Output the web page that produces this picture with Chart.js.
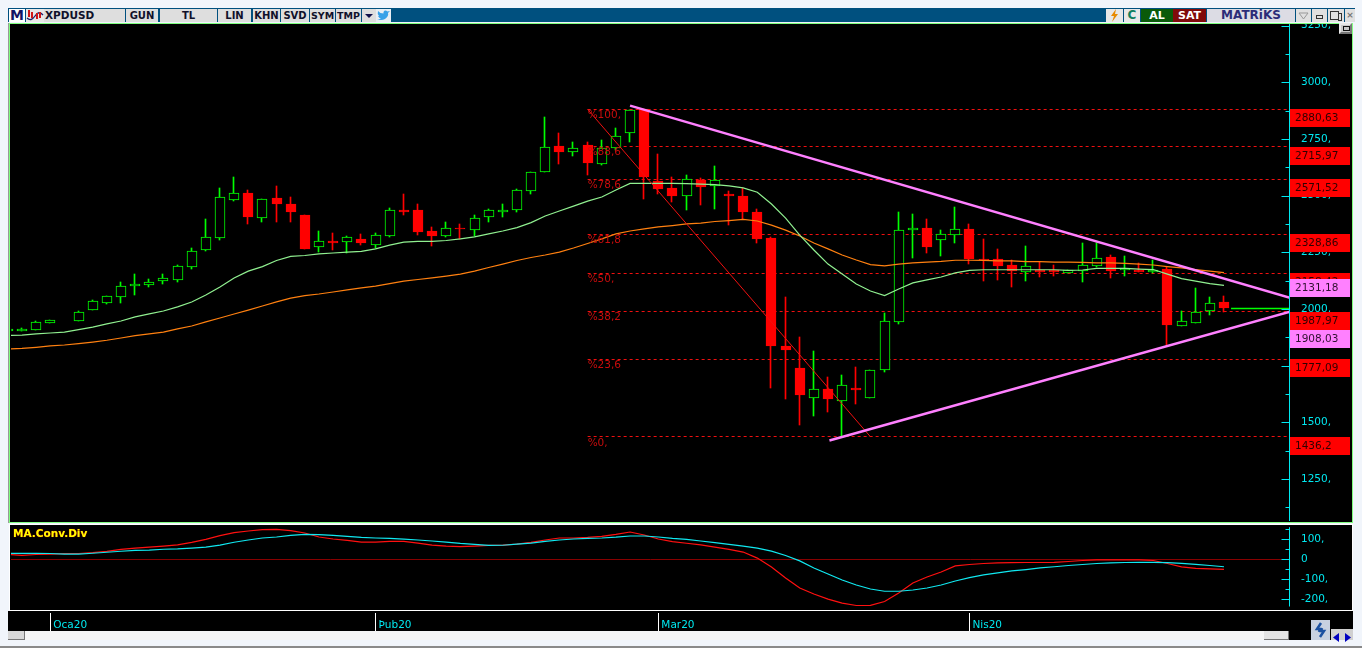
<!DOCTYPE html>
<html>
<head>
<meta charset="utf-8">
<title>XPDUSD</title>
<script src="https://cdn.jsdelivr.net/npm/chart.js@4"></script>
<style>
    html, body { margin: 0; padding: 0; width: 1362px; height: 648px; overflow: hidden; background: #f1f5fb; }
    .box { position: absolute; box-sizing: border-box; }
    .btn { position: absolute; box-sizing: border-box; top: 9px; height: 13px; background: #dedede; color: #10102a;
        font: bold 10px/13px "DejaVu Sans", sans-serif; text-align: center; overflow: hidden; }
    .btn svg { display: block; }
    canvas { position: absolute; display: block; }
</style>
</head>
<body>

<!-- window chrome -->
<div class="box" style="left:8px;top:8px;width:1347px;height:14px;background:#00507f"></div>
<div class="box" style="left:8px;top:23px;width:1345px;height:500px;background:#000;border:1px solid #80ff80;border-left:2px solid #80ff80"></div>
<div class="box" style="left:8px;top:23px;width:1px;height:500px;background:#999"></div>
<div class="box" style="left:9px;top:524px;width:1344px;height:87px;background:#000;border:1px solid #fff"></div>
<div class="box" style="left:8px;top:611px;width:1345px;height:20px;background:#000"></div>
<div class="box" style="left:8px;top:631px;width:1281px;height:9px;background:#f6f6f6"></div>
<div class="box" style="left:1289px;top:631px;width:64px;height:9px;background:#000"></div>
<div class="box" style="left:8px;top:631px;width:17px;height:9px;background:#d8d8d8;border-right:1px solid #777;border-bottom:1px solid #777"></div>
<div class="box" style="left:1264px;top:631px;width:25px;height:9px;background:#e4e4e4;border-right:1px solid #777;border-bottom:1px solid #777"></div>
<div class="box" style="left:1311px;top:620px;width:19px;height:20px;background:#c8d0e0">
    <svg width="19" height="20"><path d="M10 3 L6 9 H9 L8 12 M9 17 L13 11 H10 L11 8" fill="none" stroke="#1c50a0" stroke-width="2.5"/></svg>
</div>
<div class="box" style="left:1331px;top:629px;width:11px;height:11px;background:#d0d0d0">
    <svg width="11" height="11"><path d="M8 1 L2 5.5 L8 10 Z" fill="#0000c0"/></svg>
</div>
<div class="box" style="left:1342px;top:629px;width:11px;height:11px;background:#d0d0d0">
    <svg width="11" height="11"><path d="M3 1 L9 5.5 L3 10 Z" fill="#0000c0"/></svg>
</div>
<div class="box" style="left:0;top:646px;width:1362px;height:2px;background:#8a8a8a"></div>
<div class="box" style="left:1339px;top:23px;width:13px;height:11px;background:#c8c8c8;border:2px solid #e8e8e8;border-right-color:#777;border-bottom-color:#777"><div style="margin:1px 2px;width:5px;height:3px;border:1px solid #111"></div></div>

<!-- toolbar -->
<div class="btn" style="left:9px;width:16px;background:#fff;color:#141464;font-size:14px">M</div>
<div class="btn" style="left:26px;width:18px;background:#e8e8e8">
    <svg width="18" height="13"><path d="M1 9 Q5 13 9 7 T17 6" fill="none" stroke="#20206a" stroke-width="1.3"/><path d="M3 1 V8 M6 3 V9 M11 4 V10 M14 3 V9" stroke="#d01818" stroke-width="2"/></svg>
</div>
<div class="btn" style="left:44px;width:81px;text-align:left;padding-left:1px;font-size:10.5px">XPDUSD</div>
<div class="btn" style="left:126px;width:32px">GUN</div>
<div class="btn" style="left:160px;width:57px">TL</div>
<div class="btn" style="left:218px;width:33px">LIN</div>
<div class="btn" style="left:253px;width:27px">KHN</div>
<div class="btn" style="left:281px;width:28px">SVD</div>
<div class="btn" style="left:310px;width:25px;font-size:9.5px">SYM</div>
<div class="btn" style="left:336px;width:25px;font-size:9.5px">TMP</div>
<div class="btn" style="left:362px;width:14px">
    <svg width="14" height="13"><path d="M3 5 H11 L7 9 Z" fill="#10104a"/></svg>
</div>
<div class="btn" style="left:376px;width:15px;background:#e8eef4">
    <svg width="15" height="13"><path d="M1 10 Q5 12 9 10 Q13 7 12 4 L14 2 L11.5 2.5 Q9 0.5 7.5 3 L7.5 4.5 Q4 4.5 2 2 Q1 5 3 7 L2 7 Q3 9 5 9.5 Q3 10.5 1 10 Z" fill="#38a1e8"/></svg>
</div>
<div class="btn" style="left:1106px;width:17px;background:#e8e8e8">
    <svg width="17" height="13"><path d="M10 0 L5 7 H8 L6 13 L12 5 H9 Z" fill="#e88a00"/></svg>
</div>
<div class="btn" style="left:1124px;width:16px;background:#e8e8e8;color:#108060;font-size:12px">C</div>
<div class="btn" style="left:1141px;width:32px;background:#0a5a0a;color:#fff;font-size:11px">AL</div>
<div class="btn" style="left:1173px;width:33px;background:#800a0a;color:#fff;font-size:11px">SAT</div>
<div class="btn" style="left:1207px;width:88px;background:#dcdce4;color:#2c2c78;font-size:12px">MATRiKS</div>
<div class="btn" style="left:1296px;width:15px;background:#e0e0e0">
    <svg width="15" height="13"><path d="M3 4 H12 L7.5 10 Z" fill="none" stroke="#999"/></svg>
</div>
<div class="btn" style="left:1312px;width:15px;background:#e0e0e0">
    <svg width="15" height="13"><rect x="4.5" y="6.5" width="6" height="3" fill="none" stroke="#333"/></svg>
</div>
<div class="btn" style="left:1328px;width:16px;background:#e0e0e0">
    <svg width="16" height="13"><rect x="2.5" y="2.5" width="8" height="8" fill="none" stroke="#333"/><rect x="10.5" y="4.5" width="3" height="7" fill="none" stroke="#333"/></svg>
</div>
<div class="btn" style="left:1345px;width:10px;background:#e0e0e0;color:#777;font-size:9px">×</div>

<canvas id="priceChart" width="1339" height="497" style="left:11px;top:24px"></canvas>
<canvas id="macdChart" width="1339" height="106" style="left:11px;top:525px"></canvas>
<div class="box" style="left:13px;top:527px;color:#ffff00;font:bold 10.5px/13px 'DejaVu Sans';text-shadow:0 0 1px #f00">MA.Conv.Div</div>

<script>
// Candles (null = no bar that day)
const opens = [1904,1904,1909,1940,null,1949,1994,2028,2054,2102,2107,2122,2129,2187,2262,2315,2482,2512,2403,2490,2463,2415,2275,2298,2297,2307,2284,2323,2437,2437,2344,2323,2359,2350,2407,2428,2438,2522,2606,2719,2694,2723,2641,2712,2775,2881,2565,2534,2500,2570,2541,2507,2498,2428,2313,1837,1740,1609,1647,1595,1651,1609,1732,1944,2349,2357,2306,2328,2352,2222,2219,2194,2164,2172,2170,2160,2166,2191,2229,2172,2173,2164,2176,1926,1940,1992,2031];
const highs = [1914,1915,1946,1950,null,1990,2040,2056,2118,2154,2132,2154,2193,2268,2396,2532,2582,2525,2484,2543,2493,2415,2344,2335,2322,2329,2334,2446,2507,2463,2362,2384,2375,2413,2441,2463,2529,2604,2846,2776,2737,2735,2744,2798,2878,2881,2682,2581,2590,2577,2631,2521,2534,2441,2319,2053,1876,1815,1700,1709,1744,1729,1981,2427,2419,2397,2348,2450,2375,2309,2265,2216,2278,2207,2194,2171,2291,2290,2238,2234,2202,2216,2187,1991,2091,2053,2058];
const lows = [1900,1903,1909,1940,null,1949,1994,2023,2028,2062,2098,2112,2120,2178,2257,2306,2476,2376,2385,2385,2385,2265,2251,2260,2248,2282,2269,2318,2415,2326,2278,2318,2307,2322,2384,2406,2429,2507,2604,2640,2675,2591,2635,2702,2738,2485,2507,2473,2437,2459,2441,2370,2396,2292,1653,1603,1488,1528,1545,1434,1581,1609,1722,1935,2226,2247,2234,2291,2198,2123,2128,2097,2123,2140,2146,2160,2119,2185,2137,2146,2163,2157,1837,1926,1940,1973,1988];
const closes = [1910,1910,1942,1950,null,1986,2034,2056,2100,2110,2118,2135,2188,2254,2316,2493,2510,2406,2484,2463,2429,2265,2299,2290,2316,2291,2325,2435,2429,2341,2323,2356,2351,2400,2435,2436,2524,2603,2713,2693,2709,2644,2709,2762,2878,2582,2529,2498,2572,2538,2568,2500,2429,2310,1837,1819,1621,1646,1603,1663,1643,1729,1946,2347,2357,2274,2329,2352,2220,2214,2190,2168,2188,2164,2162,2171,2193,2224,2168,2180,2164,2173,1929,1946,1986,2025,2004];

// Moving averages
const maFast = [1883,1885,1890,1894,1898,1909,1920,1934,1947,1965,1978,1991,2009,2031,2062,2097,2137,2167,2187,2214,2232,2236,2243,2247,2251,2254,2265,2282,2295,2298,2298,2302,2309,2318,2331,2344,2359,2381,2410,2432,2454,2476,2494,2525,2554,2554,2554,2554,2553,2551,2549,2543,2534,2515,2463,2401,2326,2260,2198,2154,2110,2079,2059,2088,2115,2128,2141,2159,2170,2173,2173,2173,2173,2173,2173,2170,2172,2179,2179,2179,2176,2174,2154,2134,2123,2112,2104];
const maSlow = [1823,1826,1831,1837,1841,1847,1854,1862,1872,1882,1890,1898,1912,1925,1943,1960,1978,1995,2013,2031,2048,2059,2066,2075,2084,2093,2101,2112,2123,2130,2137,2145,2154,2167,2183,2198,2214,2227,2238,2251,2269,2289,2309,2331,2344,2353,2362,2368,2375,2379,2386,2390,2395,2388,2370,2348,2322,2291,2265,2238,2216,2196,2190,2198,2203,2207,2210,2215,2215,2214,2212,2212,2209,2209,2207,2207,2206,2203,2203,2201,2198,2194,2187,2181,2174,2167,2160];

// MACD panel
const macdLine = [24,20,24,26,28,29,33,39,49,56,61,66,72,84,99,118,133,141,148,149,143,131,111,101,94,86,86,89,89,81,71,66,63,66,69,71,76,84,96,106,106,109,114,124,136,121,101,88,80,72,61,49,36,6,-38,-93,-143,-173,-198,-218,-230,-229,-210,-168,-118,-88,-63,-33,-26,-21,-18,-17,-16,-16,-15,-11,-6,-3,-3,-3,-3,-6,-21,-38,-45,-48,-50];
const signalLine = [30,30,30,29,26,26,30,35,40,44,46,50,52,56,61,71,85,96,106,111,119,124,123,119,114,109,106,104,100,96,91,86,79,74,69,70,76,81,89,96,101,104,106,110,116,116,111,104,99,91,83,74,66,56,41,19,-8,-43,-73,-103,-128,-148,-159,-159,-153,-143,-128,-108,-91,-78,-68,-58,-51,-43,-37,-31,-26,-21,-18,-16,-15,-15,-17,-20,-25,-31,-37];

// Fibonacci retracement
const fibLevels = [2880.63,2715.97,2571.52,2328.86,2158.42,1987.97,1777.09,1436.2];
const fibPercents = ['%100,','%88,6','%78,6','%61,8','%50,','%38,2','%23,6','%0,'];
const fibPriceTags = ['2880,63','2715,97','2571,52','2328,86','2158,42','1987,97','1777,09','1436,2'];
const fibStart = 41;
const fibDiagonalX = [41, 61];
const fibDiagonalY = [2880.63, 1436.2];

// Triangle trend lines and last price
const trendUpperX = [44, 90.67];
const trendUpperY = [2897, 2049];
const trendLowerX = [58.1, 90.67];
const trendLowerY = [1420, 1988];
const trendTags = ['2131,18','1908,03'];
const trendTagValues = [2131.18, 1908.03];
const lastPriceX = [86.5, 90.67];
const lastPriceY = [2003, 2003];

// Axes
const priceTicks = [3250,3125,3000,2875,2750,2625,2500,2375,2250,2125,2000,1875,1750,1625,1500,1375,1250,1125];
const macdTicks = [150,100,50,0,-50,-100,-150,-200];
const timeLabels = ['Oca20','Þub20','Mar20','Nis20'];
const timeIndexes = [3,26,46,68];
const X_MIN = 0.222, X_MAX = 90.67;

const FONT = '10.5px "DejaVu Sans", sans-serif';
const CYAN = '#00e8f0', RED = '#ff0000', GREEN = '#00ff00';

function pairs(xs, ys) {
    return xs.map((x, i) => ({ x: x, y: ys[i] }));
}

function candleSets() {
    const wicks = [], bodies = [], wickColors = [], bodyFill = [], bodyEdge = [];
    closes.forEach((c, i) => {
        if (c === null) return;
        const up = c >= opens[i];
        wicks.push({ x: i, y: [lows[i], highs[i]] });
        wickColors.push(up ? GREEN : RED);
        bodies.push({ x: i, y: [Math.min(opens[i], c), Math.max(opens[i], c)] });
        bodyFill.push(up ? '#000000' : RED);
        bodyEdge.push(up ? GREEN : RED);
    });
    return [
        { type: 'bar', data: wicks, backgroundColor: wickColors, barThickness: 1, grouped: false, order: 9, isWick: true },
        { type: 'bar', data: bodies, backgroundColor: bodyFill, borderColor: bodyEdge, borderWidth: 1, borderSkipped: false, barThickness: 10, grouped: false, order: 8 }
    ];
}

function line(data, color, width, order, extra) {
    return Object.assign({ type: 'line', data: data, borderColor: color, borderWidth: width, pointRadius: 0, tension: 0, fill: false, order: order }, extra);
}

// Snap bars and flat lines to whole pixels, the original is not anti-aliased
const snapPlugin = {
    id: 'snap',
    beforeDatasetsDraw(chart) {
        chart.data.datasets.forEach((ds, i) => {
            const meta = chart.getDatasetMeta(i);
            if (ds.type === 'bar') {
                meta.data.forEach(el => {
                    el.x = ds.isWick ? Math.round(el.x) - 0.5 : Math.round(el.x);
                    el.y = Math.round(el.y);
                    el.base = Math.round(el.base);
                });
            } else if (ds.crisp) {
                meta.data.forEach(el => { el.y = Math.floor(el.y) + 0.5; });
            }
        });
    }
};

// Axis rule and tick marks sit on the inside of the plot
const axisRulePlugin = {
    id: 'axisRule',
    afterDraw(chart, args, opts) {
        const { ctx } = chart;
        const scale = chart.scales.y;
        const x = Math.round(scale.left) - 0.5;
        ctx.save();
        ctx.strokeStyle = CYAN;
        ctx.lineWidth = 1;
        ctx.beginPath();
        ctx.moveTo(x, scale.getPixelForValue(opts.from));
        ctx.lineTo(x, scale.getPixelForValue(opts.to));
        opts.ticks.forEach(v => {
            const y = Math.round(scale.getPixelForValue(v)) + 0.5;
            const long = v % opts.major === 0;
            ctx.moveTo(x - (long ? 8 : 4), y);
            ctx.lineTo(x, y);
        });
        ctx.stroke();
        ctx.restore();
    }
};

// Fibonacci percent labels and price tags on the axis
const tagsPlugin = {
    id: 'priceTags',
    afterDraw(chart) {
        if (chart.canvas.id !== 'priceChart') return;
        const { ctx, scales: { x, y } } = chart;
        ctx.save();
        ctx.font = FONT;
        ctx.textBaseline = 'middle';
        ctx.fillStyle = '#c80c0c';
        fibLevels.forEach((lvl, i) => {
            ctx.fillText(fibPercents[i], x.getPixelForValue(fibStart), y.getPixelForValue(lvl) + 6);
        });
        const tagLeft = Math.round(y.left);
        const tag = (value, text, fill, ink) => {
            const top = Math.round(y.getPixelForValue(value));
            ctx.fillStyle = fill;
            ctx.fillRect(tagLeft, top, 60, 18);
            ctx.fillStyle = ink;
            ctx.fillText(text, tagLeft + 5, top + 9);
        };
        fibLevels.forEach((lvl, i) => tag(lvl, fibPriceTags[i], RED, '#300000'));
        trendTagValues.forEach((v, i) => tag(v, trendTags[i], '#ff80ff', '#301030'));
        ctx.restore();
    }
};

function yAxis(min, max, ticks, label) {
    return {
        position: 'right',
        min: min,
        max: max,
        grid: { display: false },
        border: { display: false },
        afterBuildTicks(scale) { scale.ticks = ticks.map(v => ({ value: v })); },
        afterFit(scale) { scale.width = 60; scale.paddingTop = 0; scale.paddingBottom = 0; },
        ticks: { color: CYAN, font: { family: '"DejaVu Sans"', size: 10.5 }, padding: 3, autoSkip: false, callback: label }
    };
}

const baseOptions = {
    responsive: false,
    animation: false,
    events: [],
    layout: { padding: 0 },
    parsing: true
};

function initPriceChart() {
    const ctx = document.getElementById('priceChart').getContext('2d');
    const idx = closes.map((_, i) => i);
    const fibSets = fibLevels.map(lvl =>
        line(pairs([fibStart, X_MAX], [lvl, lvl]), '#f01010', 1, 10, { borderDash: [3, 3], crisp: true }));

    new Chart(ctx, {
        type: 'bar',
        data: {
            datasets: [
                ...fibSets,
                ...candleSets(),
                line(pairs(idx, maFast), '#90f090', 1.2, 4),
                line(pairs(idx, maSlow), '#ff8010', 1.2, 4),
                line(pairs(fibDiagonalX, fibDiagonalY), '#f01010', 1, 3),
                line(pairs(trendUpperX, trendUpperY), '#ff80ff', 2.5, 2),
                line(pairs(trendLowerX, trendLowerY), '#ff80ff', 2.5, 2),
                line(pairs(lastPriceX, lastPriceY), GREEN, 1.5, 1, { crisp: true })
            ]
        },
        options: Object.assign({}, baseOptions, {
            plugins: {
                legend: { display: false },
                tooltip: { enabled: false },
                axisRule: { from: 3257, to: 1064.6, ticks: priceTicks, major: 250 }
            },
            scales: {
                x: { type: 'linear', display: false, min: X_MIN, max: X_MAX, offset: false },
                y: yAxis(1064.6, 3257.2, priceTicks, v => (v % 250 === 0 ? v + ',' : ''))
            }
        }),
        plugins: [snapPlugin, axisRulePlugin, tagsPlugin]
    });
}

function initMacdChart() {
    const ctx = document.getElementById('macdChart').getContext('2d');
    const idx = closes.map((_, i) => i);

    new Chart(ctx, {
        type: 'line',
        data: {
            datasets: [
                line(pairs([X_MIN, X_MAX], [0, 0]), '#880000', 1, 5, { crisp: true }),
                line(pairs(idx, signalLine), '#10e8f0', 1.2, 2),
                line(pairs(idx, macdLine), '#ff1010', 1.2, 3)
            ]
        },
        options: Object.assign({}, baseOptions, {
            plugins: {
                legend: { display: false },
                tooltip: { enabled: false },
                axisRule: { from: 160, to: -235, ticks: macdTicks, major: 100 }
            },
            scales: {
                x: {
                    type: 'linear',
                    min: X_MIN,
                    max: X_MAX,
                    offset: false,
                    border: { display: false },
                    grid: { drawOnChartArea: false, color: '#ffffff', tickLength: 18 },
                    afterBuildTicks(scale) { scale.ticks = timeIndexes.map(v => ({ value: v })); },
                    afterFit(scale) { scale.height = 18; scale.paddingLeft = 0; scale.paddingRight = 0; },
                    ticks: {
                        color: CYAN,
                        font: { family: '"DejaVu Sans"', size: 10.5 },
                        align: 'start',
                        labelOffset: 3,
                        padding: -12,
                        maxRotation: 0,
                        autoSkip: false,
                        callback: v => timeLabels[timeIndexes.indexOf(v)]
                    }
                },
                y: yAxis(-267.4, 170.8, macdTicks, v => (v % 100 === 0 ? (v === 0 ? '0' : v + ',') : ''))
            }
        }),
        plugins: [snapPlugin, axisRulePlugin]
    });
}

initPriceChart();
initMacdChart();
</script>
</body>
</html>
